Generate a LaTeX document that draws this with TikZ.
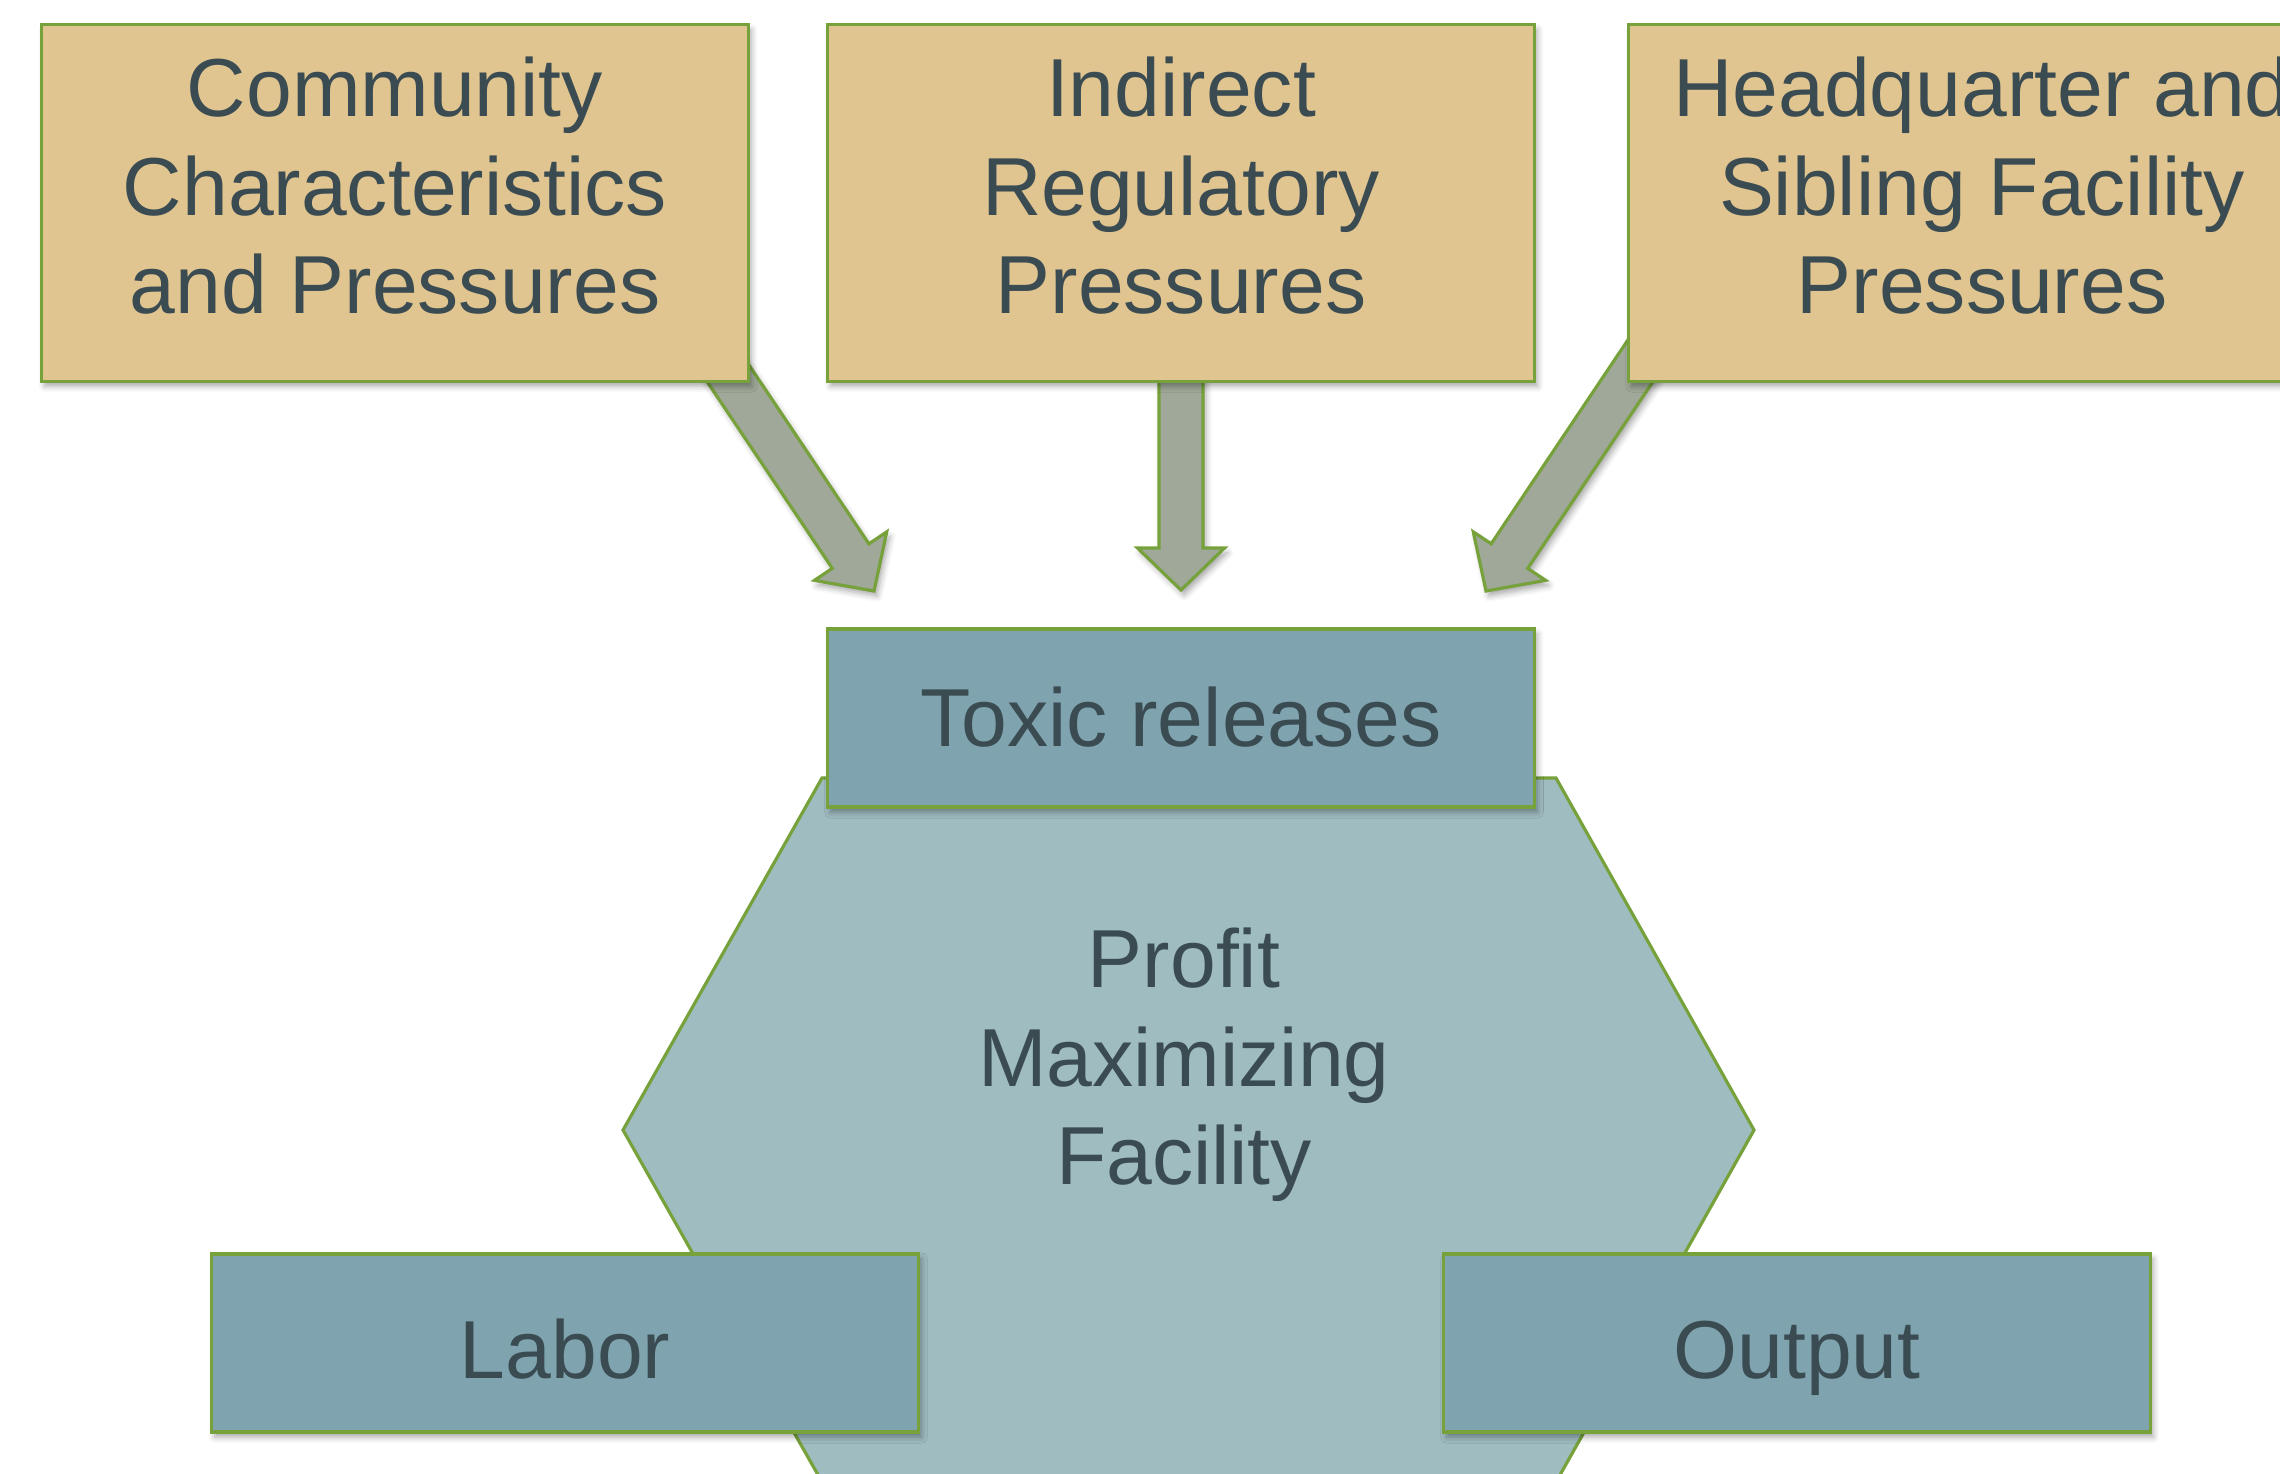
\documentclass[tikz,border=0pt]{standalone}
\usepackage{fontspec}
\setmainfont{Liberation Sans}
\usepackage{tikz}
\usetikzlibrary{calc,shadows.blur}
\definecolor{sand}{HTML}{E0C590}
\definecolor{leaf}{HTML}{76A13B}
\definecolor{ash}{HTML}{9FA899}
\definecolor{steel}{HTML}{7FA4AF}
\definecolor{haze}{HTML}{9FBCC0}
\definecolor{slate}{HTML}{3B4B52}
\def\boxwidth{7.06cm}
\def\halfshaft{0.22cm}
\def\halfhead{0.435cm}
\def\headlen{0.42cm}
\def\boxfont{\fontsize{23.4}{28}\selectfont}

\begin{document}
\begin{tikzpicture}[x=0.01cm,y=-0.01cm,line width=0.9pt]
                \tikzstyle{soft shadow}=[blur shadow={shadow xshift=0.03cm,shadow yshift=-0.05cm,shadow blur radius=0.06cm,shadow opacity=35}]
                \tikzstyle{box}=[rectangle,draw=leaf,soft shadow,minimum width=\boxwidth,inner sep=0pt]
                \tikzstyle{pressure}=[box,fill=sand,minimum height=3.56cm]
                \tikzstyle{factor}=[box,fill=steel,minimum height=1.78cm,text=slate,font=\boxfont,text height=16.4pt,text depth=0pt]
                \tikzstyle{annot}=[text=slate,align=center,font=\boxfont]
                \tikzstyle{fat arrow}=[draw=leaf,fill=ash,soft shadow]

                \useasboundingbox (0,0) rectangle (2280,1473);

                % Tail and tip of the three block arrows
                \coordinate (A-1) at (707,342);  \coordinate (T-1) at (874,591);
                \coordinate (A-2) at (1181,300); \coordinate (T-2) at (1181,590);
                \coordinate (A-3) at (1653,342); \coordinate (T-3) at (1486,591);

                % Draw the arrows first, the pressure boxes hide their tails
                \foreach \i in {1,2,3} {
                    \coordinate (B-\i) at ($(T-\i)!\headlen!(A-\i)$);
                    \draw[fat arrow] ($(A-\i)!\halfshaft!90:(T-\i)$)
                        -- ($(B-\i)!\halfshaft!90:(T-\i)$)
                        -- ($(B-\i)!\halfhead!90:(T-\i)$)
                        -- (T-\i)
                        -- ($(B-\i)!\halfhead!-90:(T-\i)$)
                        -- ($(B-\i)!\halfshaft!-90:(T-\i)$)
                        -- ($(A-\i)!\halfshaft!-90:(T-\i)$) -- cycle;
                }

                % Draw the pressure boxes
                \foreach \name / \x / \txt in {comm/395/{Community\\Characteristics\\and Pressures},
                                               reg/1181/{Indirect\\Regulatory\\Pressures},
                                               hq/1982/{Headquarter and\\Sibling Facility\\Pressures}} {
                    \node[pressure] (\name) at (\x,203) {};
                    \node[annot] (\name-txt) at (\x,186) {\txt};
                }

                % The facility itself
                \draw[draw=leaf,fill=haze] (623,1130) -- (822,778) -- (1556,778)
                    -- (1754,1130) -- (1556,1482) -- (822,1482) -- cycle;
                \node[annot] (firm) at (1184,1065) {Profit\\Maximizing\\Facility};

                % Draw the facility's inputs and outputs
                \node[factor] (tox) at (1181,718) {Toxic releases};
                \node[factor,text height=20.4pt] (labor) at (565,1343) {Labor};
                \node[factor,text height=20.4pt] (output) at (1797,1343) {Output};
            \end{tikzpicture}
\end{document}
